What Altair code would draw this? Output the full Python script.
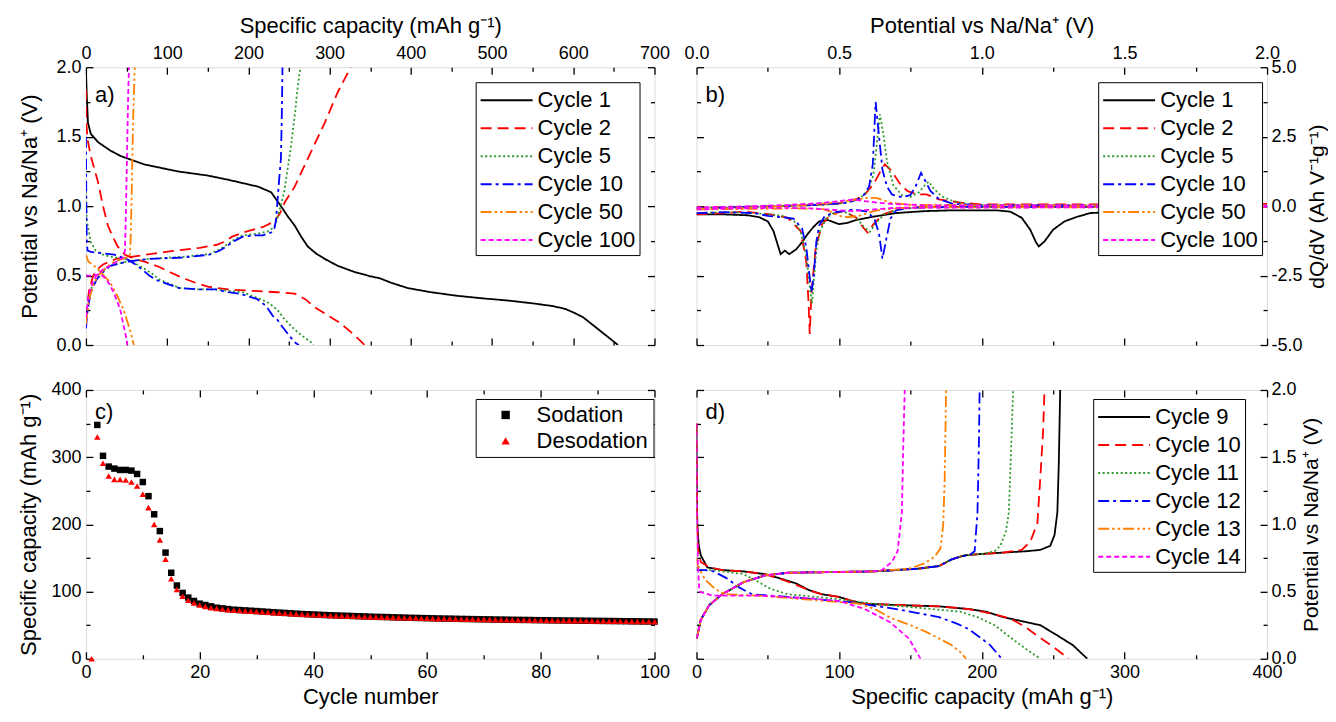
import altair as alt
import pandas as pd

FONT = "Liberation Sans"

# ---------------- panel a: galvanostatic profiles (capacity, potential) ----------------
A_SERIES = ["Cycle 1", "Cycle 2", "Cycle 5", "Cycle 10", "Cycle 50", "Cycle 100"]
COLORS6 = ["#000000", "#ff0000", "#2e9a2e", "#0000ff", "#ff8000", "#ff00ff"]
DASHES6 = [[1, 0], [11, 6], [2, 2.5], [11, 4, 3, 4], [11, 3, 2.5, 3, 2.5, 3], [5, 3]]

A_C1_DIS = [(0, 1.98), (1, 1.80), (2.5, 1.60), (6, 1.52), (15, 1.46), (30, 1.40), (43, 1.36),
            (72, 1.30), (113, 1.25), (150, 1.22), (175, 1.19), (212, 1.14), (228, 1.10),
            (240, 1.00), (248, 0.93), (257, 0.86), (265, 0.78), (273, 0.71), (283, 0.66),
            (294, 0.62), (310, 0.57), (331, 0.525), (350, 0.495), (362, 0.48), (375, 0.45),
            (396, 0.41), (425, 0.38), (456, 0.355), (490, 0.335), (520, 0.32), (550, 0.30),
            (575, 0.28), (590, 0.26), (600, 0.235), (612, 0.20), (625, 0.14), (640, 0.07), (655, 0.0)]
A_C2_DIS = [(0, 1.84), (0.5, 1.60), (2, 1.48), (6, 1.36), (15, 1.17), (21, 1.0), (27, 0.86),
            (33, 0.78), (39, 0.71), (48, 0.65), (60, 0.62), (72, 0.60), (91, 0.56), (105, 0.52),
            (120, 0.48), (134, 0.45), (150, 0.42), (175, 0.40), (205, 0.39), (236, 0.38),
            (257, 0.37), (270, 0.33), (282, 0.27), (296, 0.22), (310, 0.17), (325, 0.10),
            (338, 0.03), (343, 0.0)]
A_C2_CHG = [(0, 0.20), (1, 0.26), (4, 0.40), (9, 0.50), (15, 0.55), (21, 0.58), (37, 0.62),
            (62, 0.64), (98, 0.67), (140, 0.70), (160, 0.72), (169, 0.74), (180, 0.78),
            (193, 0.81), (218, 0.85), (232, 0.89), (239, 0.95), (245, 1.03), (257, 1.14),
            (273, 1.34), (294, 1.60), (310, 1.82), (326, 2.0)]
A_C5_DIS = [(0, 1.10), (1, 0.90), (6, 0.74), (12, 0.68), (21, 0.65), (35, 0.63), (50, 0.62),
            (66, 0.57), (80, 0.52), (91, 0.47), (103, 0.44), (116, 0.41), (140, 0.40), (160, 0.40),
            (193, 0.38), (215, 0.33), (226, 0.30), (236, 0.25), (244, 0.19), (252, 0.14),
            (261, 0.09), (270, 0.05), (277, 0.02), (280, 0.0)]
A_C5_CHG = [(0, 0.15), (2, 0.28), (6, 0.40), (13, 0.48), (20, 0.53), (30, 0.57), (50, 0.60),
            (78, 0.62), (120, 0.635), (152, 0.655), (165, 0.69), (173, 0.72), (183, 0.76),
            (193, 0.79), (210, 0.80), (225, 0.82), (232, 0.85), (236, 0.92), (244, 1.10),
            (252, 1.41), (258, 1.70), (260, 1.82), (264, 2.0)]
A_C10_DIS = [(0, 1.50), (0.5, 1.0), (1, 0.75), (2, 0.68), (6, 0.67), (20, 0.66), (35, 0.65),
             (50, 0.62), (61, 0.58), (70, 0.54), (78, 0.50), (86, 0.47), (100, 0.44), (115, 0.41),
             (140, 0.40), (160, 0.40), (175, 0.38), (189, 0.37), (200, 0.35), (211, 0.33),
             (222, 0.28), (230, 0.21), (236, 0.18), (242, 0.13), (250, 0.07), (257, 0.02), (262, 0.0)]
A_C10_CHG = [(0, 0.12), (2, 0.25), (6, 0.38), (13, 0.47), (20, 0.52), (30, 0.57), (50, 0.60),
             (78, 0.62), (120, 0.63), (152, 0.65), (165, 0.68), (173, 0.71), (183, 0.75),
             (193, 0.78), (210, 0.79), (218, 0.79), (228, 0.81), (232, 0.84), (234, 0.90),
             (236, 1.05), (238, 1.20), (240, 1.34), (241, 1.60), (242, 2.0)]
A_C50_DIS = [(0, 0.65), (3, 0.60), (8, 0.58), (14, 0.55), (22, 0.50), (30, 0.45), (38, 0.36),
             (46, 0.26), (52, 0.15), (56, 0.07), (59, 0.0)]
A_C50_CHG = [(0, 0.15), (3, 0.30), (8, 0.42), (15, 0.50), (25, 0.56), (35, 0.60), (45, 0.62),
             (54, 0.64), (55, 0.75), (56, 1.0), (57, 1.3), (58, 1.6), (59, 1.8), (60, 2.0)]
A_C100_DIS = [(0, 0.50), (8, 0.50), (18, 0.51), (24, 0.48), (30, 0.43), (36, 0.35), (42, 0.26),
              (46, 0.15), (49, 0.07), (51, 0.0)]
A_C100_CHG = [(0, 0.20), (3, 0.35), (8, 0.45), (13, 0.50), (22, 0.55), (30, 0.57), (40, 0.61),
              (46, 0.63), (48, 0.68), (49, 0.90), (50, 1.2), (51, 1.5), (52, 1.8), (53, 2.0)]

# ---------------- panel b: differential capacity (potential, dQ/dV) ----------------
B_C1 = [(0, -0.30), (0.10, -0.30), (0.18, -0.33), (0.22, -0.40), (0.25, -0.55), (0.27, -0.90),
        (0.285, -1.40), (0.295, -1.73), (0.31, -1.60), (0.325, -1.73), (0.35, -1.55), (0.37, -1.30),
        (0.39, -1.00), (0.41, -0.75), (0.43, -0.55), (0.46, -0.50), (0.50, -0.65), (0.53, -0.60),
        (0.56, -0.50), (0.62, -0.38), (0.70, -0.25), (0.80, -0.18), (0.90, -0.15), (1.05, -0.15),
        (1.10, -0.20), (1.14, -0.42), (1.17, -0.85), (1.19, -1.30), (1.20, -1.45), (1.22, -1.27),
        (1.25, -0.85), (1.29, -0.55), (1.33, -0.40), (1.38, -0.25), (1.45, -0.22), (1.60, -0.20),
        (1.85, -0.20)]
B_C2_NEG = [(0, -0.30), (0.10, -0.25), (0.17, -0.20), (0.26, -0.30), (0.32, -0.42), (0.365, -0.90),
            (0.385, -2.0), (0.393, -3.5), (0.397, -4.6), (0.403, -3.1), (0.418, -1.5), (0.44, -0.66),
            (0.47, -0.30), (0.517, -0.18), (0.56, -0.42), (0.585, -0.78), (0.60, -0.95), (0.62, -0.66),
            (0.654, -0.30), (0.715, -0.08), (0.80, -0.03), (2.0, -0.02)]
B_C2_POS = [(0, -0.05), (0.2, -0.02), (0.4, 0.03), (0.5, 0.10), (0.56, 0.25), (0.59, 0.42),
            (0.62, 0.78), (0.646, 1.27), (0.66, 1.50), (0.684, 1.27), (0.715, 0.78), (0.74, 0.54),
            (0.776, 0.42), (0.806, 0.42), (0.85, 0.24), (0.93, 0.12), (1.0, 0.06), (1.5, 0.06), (2.0, 0.08)]
B_C5_NEG = [(0, -0.25), (0.10, -0.22), (0.20, -0.25), (0.26, -0.30), (0.30, -0.35), (0.34, -0.50),
            (0.365, -0.90), (0.385, -1.8), (0.398, -3.0), (0.405, -3.5), (0.412, -2.6), (0.42, -1.6),
            (0.433, -0.90), (0.456, -0.42), (0.487, -0.20), (0.517, -0.20), (0.56, -0.42), (0.59, -0.78),
            (0.608, -0.92), (0.63, -0.60), (0.66, -0.28), (0.715, -0.10), (0.80, -0.04), (2.0, -0.03)]
B_C5_POS = [(0, -0.06), (0.2, -0.02), (0.4, 0.03), (0.5, 0.08), (0.57, 0.25), (0.60, 0.55),
            (0.62, 1.10), (0.635, 2.5), (0.643, 3.3), (0.655, 2.6), (0.668, 1.6), (0.69, 0.75),
            (0.72, 0.40), (0.75, 0.33), (0.78, 0.50), (0.80, 0.75), (0.814, 0.88), (0.83, 0.65),
            (0.86, 0.35), (0.90, 0.18), (0.96, 0.05), (1.2, 0.03), (2.0, 0.02)]
B_C10_NEG = [(0, -0.25), (0.10, -0.22), (0.20, -0.25), (0.25, -0.35), (0.30, -0.40), (0.34, -0.45),
             (0.37, -0.80), (0.385, -1.5), (0.395, -2.4), (0.403, -3.1), (0.41, -2.6), (0.42, -1.3),
             (0.43, -0.70), (0.45, -0.35), (0.49, -0.22), (0.55, -0.12), (0.60, -0.20), (0.625, -0.50),
             (0.64, -1.0), (0.652, -1.9), (0.665, -1.2), (0.68, -0.45), (0.70, -0.15), (0.75, -0.06),
             (0.90, -0.03), (2.0, -0.02)]
B_C10_POS = [(0, -0.08), (0.2, -0.03), (0.35, 0.02), (0.45, 0.06), (0.53, 0.12), (0.58, 0.30),
             (0.605, 0.70), (0.618, 1.5), (0.628, 3.75), (0.64, 2.5), (0.652, 1.3), (0.668, 0.70),
             (0.685, 0.42), (0.72, 0.32), (0.75, 0.40), (0.77, 0.75), (0.787, 1.2), (0.80, 0.95),
             (0.82, 0.55), (0.85, 0.25), (0.90, 0.08), (1.0, 0.03), (1.5, 0.02), (2.0, 0.02)]
B_C50_NEG = [(0, -0.12), (0.2, -0.10), (0.35, -0.08), (0.44, -0.10), (0.47, -0.20), (0.50, -0.35),
             (0.53, -0.40), (0.57, -0.35), (0.61, -0.22), (0.65, -0.12), (0.75, -0.05), (2.0, -0.03)]
B_C50_POS = [(0, -0.10), (0.2, -0.05), (0.35, 0.02), (0.47, 0.12), (0.55, 0.22), (0.60, 0.30),
             (0.63, 0.30), (0.68, 0.12), (0.75, 0.05), (1.0, 0.03), (2.0, 0.03)]
B_C100_NEG = [(0, -0.12), (0.15, -0.08), (0.30, -0.06), (0.40, -0.08), (0.48, -0.14), (0.55, -0.18),
              (0.62, -0.12), (0.70, -0.06), (2.0, -0.03)]
B_C100_POS = [(0, -0.05), (0.2, 0.0), (0.32, 0.04), (0.42, 0.10), (0.50, 0.18), (0.55, 0.24),
              (0.59, 0.18), (0.64, 0.12), (0.68, 0.08), (0.80, 0.03), (2.0, 0.02)]

# ---------------- panel c: cycling (cycle number, capacity) ----------------
C_SERIES = ["Sodation", "Desodation"]
C_SODATION_FIRST_CYCLE = 2
C_SODATION = [348, 302, 286, 283, 281, 281, 280, 275, 263, 242, 215, 190, 158, 128, 109, 98, 91,
              86, 82, 80, 78, 76, 75, 74,
              73, 72.5, 72, 71.5, 71, 70.4, 69.8, 69.2, 68.7, 68.2, 67.7, 67.2, 66.7, 66.3, 65.9,
              65.5, 65.1, 64.8, 64.5, 64.2, 63.9, 63.6, 63.3, 63.0, 62.7, 62.4, 62.2, 62.0, 61.7,
              61.5, 61.2, 61.0, 60.8, 60.6, 60.4, 60.2, 60.0, 59.8, 59.7, 59.5, 59.3, 59.2, 59.0,
              58.9, 58.7, 58.6, 58.4, 58.3, 58.2, 58.0, 57.9, 57.8, 57.7, 57.5, 57.4, 57.3, 57.2,
              57.1, 57.0, 56.9, 56.8, 56.7, 56.6, 56.5, 56.4, 56.3, 56.2, 56.1, 56.0, 55.9, 55.8,
              55.7, 55.6, 55.5, 55.4]
C_DESODATION_FIRST_CYCLE = 1
C_DESODATION = [0, 330, 291, 272, 267, 267, 266, 263, 257, 245, 225, 200, 177, 148, 119, 103, 93,
                87, 83, 80, 78, 76, 75, 74, 73,
                72.3, 71.8, 71.3, 70.8, 70.3, 69.8, 69.2, 68.7, 68.2, 67.7, 67.2, 66.8, 66.3, 65.9,
                65.5, 65.1, 64.8, 64.4, 64.1, 63.8, 63.5, 63.2, 62.9, 62.6, 62.4, 62.1, 61.9, 61.7,
                61.4, 61.2, 61.0, 60.8, 60.6, 60.4, 60.2, 60.0, 59.8, 59.7, 59.5, 59.3, 59.2, 59.0,
                58.9, 58.7, 58.6, 58.4, 58.3, 58.2, 58.0, 57.9, 57.8, 57.7, 57.5, 57.4, 57.3, 57.2,
                57.1, 57.0, 56.9, 56.8, 56.7, 56.6, 56.5, 56.4, 56.3, 56.2, 56.1, 56.0, 55.9, 55.8,
                55.7, 55.6, 55.5, 55.4, 55.3]

# ---------------- panel d: profiles cycles 9-14 (capacity, potential) ----------------
D_SERIES = ["Cycle 9", "Cycle 10", "Cycle 11", "Cycle 12", "Cycle 13", "Cycle 14"]
D_C9_DIS = [(0, 1.75), (0.3, 1.2), (0.6, 1.0), (1.5, 0.85), (3, 0.77), (7.6, 0.68), (18, 0.66),
            (33, 0.65), (48, 0.63), (58, 0.60), (70, 0.56), (79, 0.51), (88, 0.48), (100, 0.46),
            (109, 0.43), (118, 0.41), (140, 0.40), (170, 0.39), (191, 0.37), (203, 0.35),
            (215, 0.31), (228, 0.28), (241, 0.25), (252, 0.18), (264, 0.10), (274, 0.0)]
D_C9_CHG = [(0, 0.15), (0.6, 0.17), (3, 0.29), (9, 0.40), (18, 0.48), (33, 0.57), (48, 0.62),
            (64, 0.64), (94, 0.645), (124, 0.65), (155, 0.67), (170, 0.69), (179, 0.74), (188, 0.77),
            (200, 0.78), (215, 0.79), (231, 0.80), (241, 0.81), (248, 0.84), (251, 0.92),
            (253, 1.09), (254, 1.45), (255, 2.0)]
D_C10_DIS = [(0, 1.75), (0.3, 1.1), (1, 0.82), (3, 0.72), (9, 0.68), (18, 0.66), (33, 0.65),
             (48, 0.63), (60, 0.59), (70, 0.55), (79, 0.51), (88, 0.48), (100, 0.46), (109, 0.43),
             (118, 0.41), (140, 0.40), (170, 0.39), (191, 0.37), (205, 0.34), (220, 0.30),
             (230, 0.24), (239, 0.17), (250, 0.09), (261, 0.0)]
D_C10_CHG = [(0, 0.15), (0.6, 0.17), (3, 0.29), (9, 0.40), (18, 0.48), (33, 0.57), (48, 0.62),
             (64, 0.64), (94, 0.645), (124, 0.65), (155, 0.67), (170, 0.69), (179, 0.74), (188, 0.77),
             (200, 0.78), (215, 0.79), (228, 0.81), (234, 0.87), (239, 1.01), (241, 1.34),
             (243, 1.69), (244, 2.0)]
D_C11_DIS = [(0, 0.68), (3, 0.66), (12, 0.66), (33, 0.63), (42, 0.58), (52, 0.52), (64, 0.48),
             (94, 0.45), (124, 0.41), (155, 0.38), (185, 0.35), (197, 0.31), (209, 0.25),
             (220, 0.16), (230, 0.08), (241, 0.0)]
D_C11_CHG = [(0, 0.15), (0.6, 0.17), (3, 0.29), (9, 0.40), (18, 0.48), (33, 0.57), (48, 0.62),
             (64, 0.64), (94, 0.645), (124, 0.65), (155, 0.67), (170, 0.69), (179, 0.74), (188, 0.77),
             (200, 0.78), (209, 0.80), (213, 0.84), (217, 0.95), (219, 1.09), (221, 1.69), (222, 2.0)]
D_C12_DIS = [(0, 0.66), (6, 0.66), (12, 0.65), (21, 0.60), (30, 0.53), (39, 0.48), (64, 0.46),
             (109, 0.42), (140, 0.37), (155, 0.34), (170, 0.31), (183, 0.26), (191, 0.22),
             (200, 0.15), (206, 0.10), (214, 0.0)]
D_C12_CHG = [(0, 0.15), (0.6, 0.17), (3, 0.29), (9, 0.40), (18, 0.48), (33, 0.57), (48, 0.62),
             (64, 0.64), (94, 0.645), (124, 0.65), (155, 0.67), (170, 0.69), (179, 0.74), (185, 0.76),
             (191, 0.77), (195, 0.80), (197, 1.09), (198, 1.6), (198.5, 2.0)]
D_C13_DIS = [(0, 0.75), (1, 0.69), (6, 0.59), (13, 0.52), (20, 0.48), (44, 0.47), (90, 0.43),
             (114, 0.41), (125, 0.37), (137, 0.30), (150, 0.25), (161, 0.20), (172, 0.14),
             (179, 0.10), (185, 0.05), (189, 0.0)]
D_C13_CHG = [(0, 0.15), (0.6, 0.17), (3, 0.29), (9, 0.40), (18, 0.48), (33, 0.57), (48, 0.62),
             (64, 0.64), (94, 0.645), (124, 0.65), (149, 0.67), (160, 0.71), (167, 0.76),
             (171, 0.82), (173, 1.0), (174, 1.34), (175, 2.0)]
D_C14_DIS = [(0, 1.75), (0.5, 1.0), (1, 0.70), (2, 0.50), (11, 0.47), (44, 0.47), (79, 0.45),
             (100, 0.43), (118, 0.37), (136, 0.27), (149, 0.15), (157, 0.0)]
D_C14_CHG = [(0, 0.15), (0.6, 0.17), (3, 0.29), (9, 0.40), (18, 0.48), (33, 0.57), (48, 0.62),
             (64, 0.64), (94, 0.645), (124, 0.65), (130, 0.66), (137, 0.72), (141, 0.80),
             (144, 1.09), (145, 1.6), (146, 2.0)]


def curves_frame(field, curves):
    rows = []
    for series, seg, pts in curves:
        for i, (x, y) in enumerate(pts):
            rows.append({field: series, "seg": series + "-" + seg, "i": i, "x": x, "y": y})
    return pd.DataFrame(rows)


HYPHEN_LABEL = "datum.value < 0 ? '-' + format(-datum.value, '.1f') : format(datum.value, '.1f')"


def make_axis(orient, values, labels=False, fmt=None, title=None, major=True,
              label_pad=5, title_pad=7, title_angle=None, title_baseline=None,
              title_size=22, label_expr=None):
    ts = -7 if major else -4
    kw = dict(orient=orient, values=values, domain=False, grid=False, ticks=True,
              tickSize={"expr": str(ts)}, tickColor="black", tickWidth=1.3,
              labels=labels, title=title)
    if labels:
        kw.update(format=fmt, labelPadding=label_pad - ts, labelFlush=False,
                  labelOverlap=False, labelFontSize=18, labelFont=FONT, labelColor="black")
        if label_expr is not None:
            kw["labelExpr"] = label_expr
    if title is not None:
        kw.update(titlePadding=title_pad, titleFontSize=title_size, titleFont=FONT,
                  titleFontWeight="normal", titleColor="black")
        if title_angle is not None:
            kw["titleAngle"] = title_angle
        if title_baseline is not None:
            kw["titleBaseline"] = title_baseline
    return alt.Axis(**kw)


def line_legend(lx, ly):
    return alt.Legend(title=None, orient="none", legendX=lx, legendY=ly,
                      strokeColor="black", fillColor="white", padding=4,
                      labelFont=FONT, labelFontSize=22, labelColor="black",
                      symbolType="M-2,0H2", symbolSize=676, symbolStrokeWidth=2,
                      symbolOffset=13, rowPadding=3, labelOffset=17)


def panel(layers, sx, sy, x_axes, y_axes, w, h, letter, lpos):
    dummy = pd.DataFrame({"x": [sx.domain[0]], "y": [sy.domain[0]]})
    axis_layers = [
        alt.Chart(dummy).mark_point(opacity=0).encode(
            x=alt.X("x:Q", scale=sx, axis=ax_x), y=alt.Y("y:Q", scale=sy, axis=ax_y))
        for ax_x, ax_y in zip(x_axes, y_axes)
    ]
    letter_layer = alt.Chart(dummy).mark_text(
        text=letter, align="left", baseline="middle", font=FONT, fontSize=22, color="black"
    ).encode(x=alt.value(lpos[0]), y=alt.value(lpos[1]))
    return alt.layer(*layers, *axis_layers, letter_layer).resolve_axis(
        x="independent", y="independent").properties(width=w, height=h)


def line_layer(df, field, names, sx, sy, leg):
    return alt.Chart(df).mark_line(strokeWidth=1.8, clip=True).encode(
        x=alt.X("x:Q", scale=sx, axis=None),
        y=alt.Y("y:Q", scale=sy, axis=None),
        color=alt.Color(field + ":N", scale=alt.Scale(domain=names, range=COLORS6), legend=leg),
        strokeDash=alt.StrokeDash(field + ":N", scale=alt.Scale(domain=names, range=DASHES6), legend=leg),
        detail="seg:N",
        order="i:Q",
    )


W, H_TOP, H_BOT = 569, 278, 269

# ----- a -----
a_df = curves_frame("sa", [
    ("Cycle 1", "d", A_C1_DIS),
    ("Cycle 2", "d", A_C2_DIS), ("Cycle 2", "c", A_C2_CHG),
    ("Cycle 5", "d", A_C5_DIS), ("Cycle 5", "c", A_C5_CHG),
    ("Cycle 10", "d", A_C10_DIS), ("Cycle 10", "c", A_C10_CHG),
    ("Cycle 50", "d", A_C50_DIS), ("Cycle 50", "c", A_C50_CHG),
    ("Cycle 100", "d", A_C100_DIS), ("Cycle 100", "c", A_C100_CHG),
])
sxa = alt.Scale(domain=[0, 700], nice=False, zero=False)
sya = alt.Scale(domain=[0, 2], nice=False, zero=False)
XA_MAJ = [0, 100, 200, 300, 400, 500, 600, 700]
XA_MIN = [50, 150, 250, 350, 450, 550, 650]
YV_MAJ = [0, 0.5, 1.0, 1.5, 2.0]
YV_MIN = [0.25, 0.75, 1.25, 1.75]
pa = panel(
    [line_layer(a_df, "sa", A_SERIES, sxa, sya, line_legend(390, 15))], sxa, sya,
    [make_axis("top", XA_MAJ, True, "d", "Specific capacity (mAh g\u207b\u00b9)"),
     make_axis("bottom", XA_MAJ), make_axis("top", XA_MIN, major=False),
     make_axis("bottom", XA_MIN, major=False)],
    [make_axis("left", YV_MAJ, True, ".1f", "Potential vs Na/Na\u207a (V)", title_pad=14),
     make_axis("right", YV_MAJ), make_axis("left", YV_MIN, major=False),
     make_axis("right", YV_MIN, major=False)],
    W, H_TOP, "a)", (9, 28))

# ----- b -----
b_df = curves_frame("sb", [
    ("Cycle 1", "n", B_C1),
    ("Cycle 2", "n", B_C2_NEG), ("Cycle 2", "p", B_C2_POS),
    ("Cycle 5", "n", B_C5_NEG), ("Cycle 5", "p", B_C5_POS),
    ("Cycle 10", "n", B_C10_NEG), ("Cycle 10", "p", B_C10_POS),
    ("Cycle 50", "n", B_C50_NEG), ("Cycle 50", "p", B_C50_POS),
    ("Cycle 100", "n", B_C100_NEG), ("Cycle 100", "p", B_C100_POS),
])
sxb = alt.Scale(domain=[0, 2], nice=False, zero=False)
syb = alt.Scale(domain=[-5, 5], nice=False, zero=False)
XB_MAJ = [0, 0.5, 1.0, 1.5, 2.0]
XB_MIN = [0.25, 0.75, 1.25, 1.75]
YB_MAJ = [-5, -2.5, 0, 2.5, 5]
YB_MIN = [-3.75, -1.25, 1.25, 3.75]
pb = panel(
    [line_layer(b_df, "sb", A_SERIES, sxb, syb, line_legend(402, 15))], sxb, syb,
    [make_axis("top", XB_MAJ, True, ".1f", "Potential vs Na/Na\u207a (V)"),
     make_axis("bottom", XB_MAJ), make_axis("top", XB_MIN, major=False),
     make_axis("bottom", XB_MIN, major=False)],
    [make_axis("right", YB_MAJ, True, ".1f", "dQ/dV (Ah V\u207b\u00b9g\u207b\u00b9)", title_pad=4,
               title_angle=270, title_baseline="top", title_size=21, label_pad=4,
               label_expr=HYPHEN_LABEL),
     make_axis("left", YB_MAJ), make_axis("right", YB_MIN, major=False),
     make_axis("left", YB_MIN, major=False)],
    W + 2, H_TOP, "b)", (9, 28))

# ----- c -----
c_rows = []
for k, v in enumerate(C_SODATION):
    c_rows.append({"sc": "Sodation", "x": C_SODATION_FIRST_CYCLE + k, "y": v})
for k, v in enumerate(C_DESODATION):
    c_rows.append({"sc": "Desodation", "x": C_DESODATION_FIRST_CYCLE + k, "y": v})
c_df = pd.DataFrame(c_rows)
sxc = alt.Scale(domain=[0, 100], nice=False, zero=False)
syc = alt.Scale(domain=[0, 400], nice=False, zero=False)
c_leg = alt.Legend(title=None, orient="none", legendX=390, legendY=9,
                   strokeColor="black", fillColor="white", padding=5,
                   labelFont=FONT, labelFontSize=22, labelColor="black",
                   symbolSize=70, rowPadding=4, labelOffset=20, symbolOffset=14)
c_layer = alt.Chart(c_df).mark_point(filled=True, opacity=1, size=42).encode(
    x=alt.X("x:Q", scale=sxc, axis=None),
    y=alt.Y("y:Q", scale=syc, axis=None),
    color=alt.Color("sc:N", scale=alt.Scale(domain=C_SERIES, range=["#000000", "#ff0000"]), legend=c_leg),
    shape=alt.Shape("sc:N", scale=alt.Scale(domain=C_SERIES, range=["square", "triangle-up"]), legend=c_leg),
)
XC_MAJ = [0, 20, 40, 60, 80, 100]
XC_MIN = [10, 30, 50, 70, 90]
YC_MAJ = [0, 100, 200, 300, 400]
YC_MIN = [50, 150, 250, 350]
pc = panel(
    [c_layer], sxc, syc,
    [make_axis("bottom", XC_MAJ, True, "d", "Cycle number", title_pad=5),
     make_axis("top", XC_MAJ), make_axis("bottom", XC_MIN, major=False),
     make_axis("top", XC_MIN, major=False)],
    [make_axis("left", YC_MAJ, True, "d", "Specific capacity (mAh g\u207b\u00b9)", title_pad=10),
     make_axis("right", YC_MAJ), make_axis("left", YC_MIN, major=False),
     make_axis("right", YC_MIN, major=False)],
    W, H_BOT, "c)", (9, 22))

# ----- d -----
d_df = curves_frame("sd", [
    ("Cycle 9", "d", D_C9_DIS), ("Cycle 9", "c", D_C9_CHG),
    ("Cycle 10", "d", D_C10_DIS), ("Cycle 10", "c", D_C10_CHG),
    ("Cycle 11", "d", D_C11_DIS), ("Cycle 11", "c", D_C11_CHG),
    ("Cycle 12", "d", D_C12_DIS), ("Cycle 12", "c", D_C12_CHG),
    ("Cycle 13", "d", D_C13_DIS), ("Cycle 13", "c", D_C13_CHG),
    ("Cycle 14", "d", D_C14_DIS), ("Cycle 14", "c", D_C14_CHG),
])
sxd = alt.Scale(domain=[0, 400], nice=False, zero=False)
syd = alt.Scale(domain=[0, 2], nice=False, zero=False)
XD_MAJ = [0, 100, 200, 300, 400]
XD_MIN = [50, 150, 250, 350]
pd_ = panel(
    [line_layer(d_df, "sd", D_SERIES, sxd, syd, line_legend(397, 9))], sxd, syd,
    [make_axis("bottom", XD_MAJ, True, "d", "Specific capacity (mAh g\u207b\u00b9)", title_pad=5),
     make_axis("top", XD_MAJ), make_axis("bottom", XD_MIN, major=False),
     make_axis("top", XD_MIN, major=False)],
    [make_axis("right", YV_MAJ, True, ".1f", "Potential vs Na/Na\u207a (V)", title_pad=4,
               title_angle=270, title_baseline="top", title_size=21, label_pad=4),
     make_axis("left", YV_MAJ), make_axis("right", YV_MIN, major=False),
     make_axis("left", YV_MIN, major=False)],
    W + 2, H_BOT, "d)", (9, 22))

chart = alt.concat(
    pa, pb, pc, pd_, columns=2, spacing={"row": 45, "column": 42}, bounds="flush"
).resolve_scale(
    color="independent", strokeDash="independent", shape="independent"
).properties(
    padding={"left": 9, "top": 5, "right": 0, "bottom": 0}
).configure_view(
    stroke="black", strokeWidth=1.5
).configure(
    font=FONT
)

chart.save("out.html", embed_options={"renderer": "svg", "actions": False})
